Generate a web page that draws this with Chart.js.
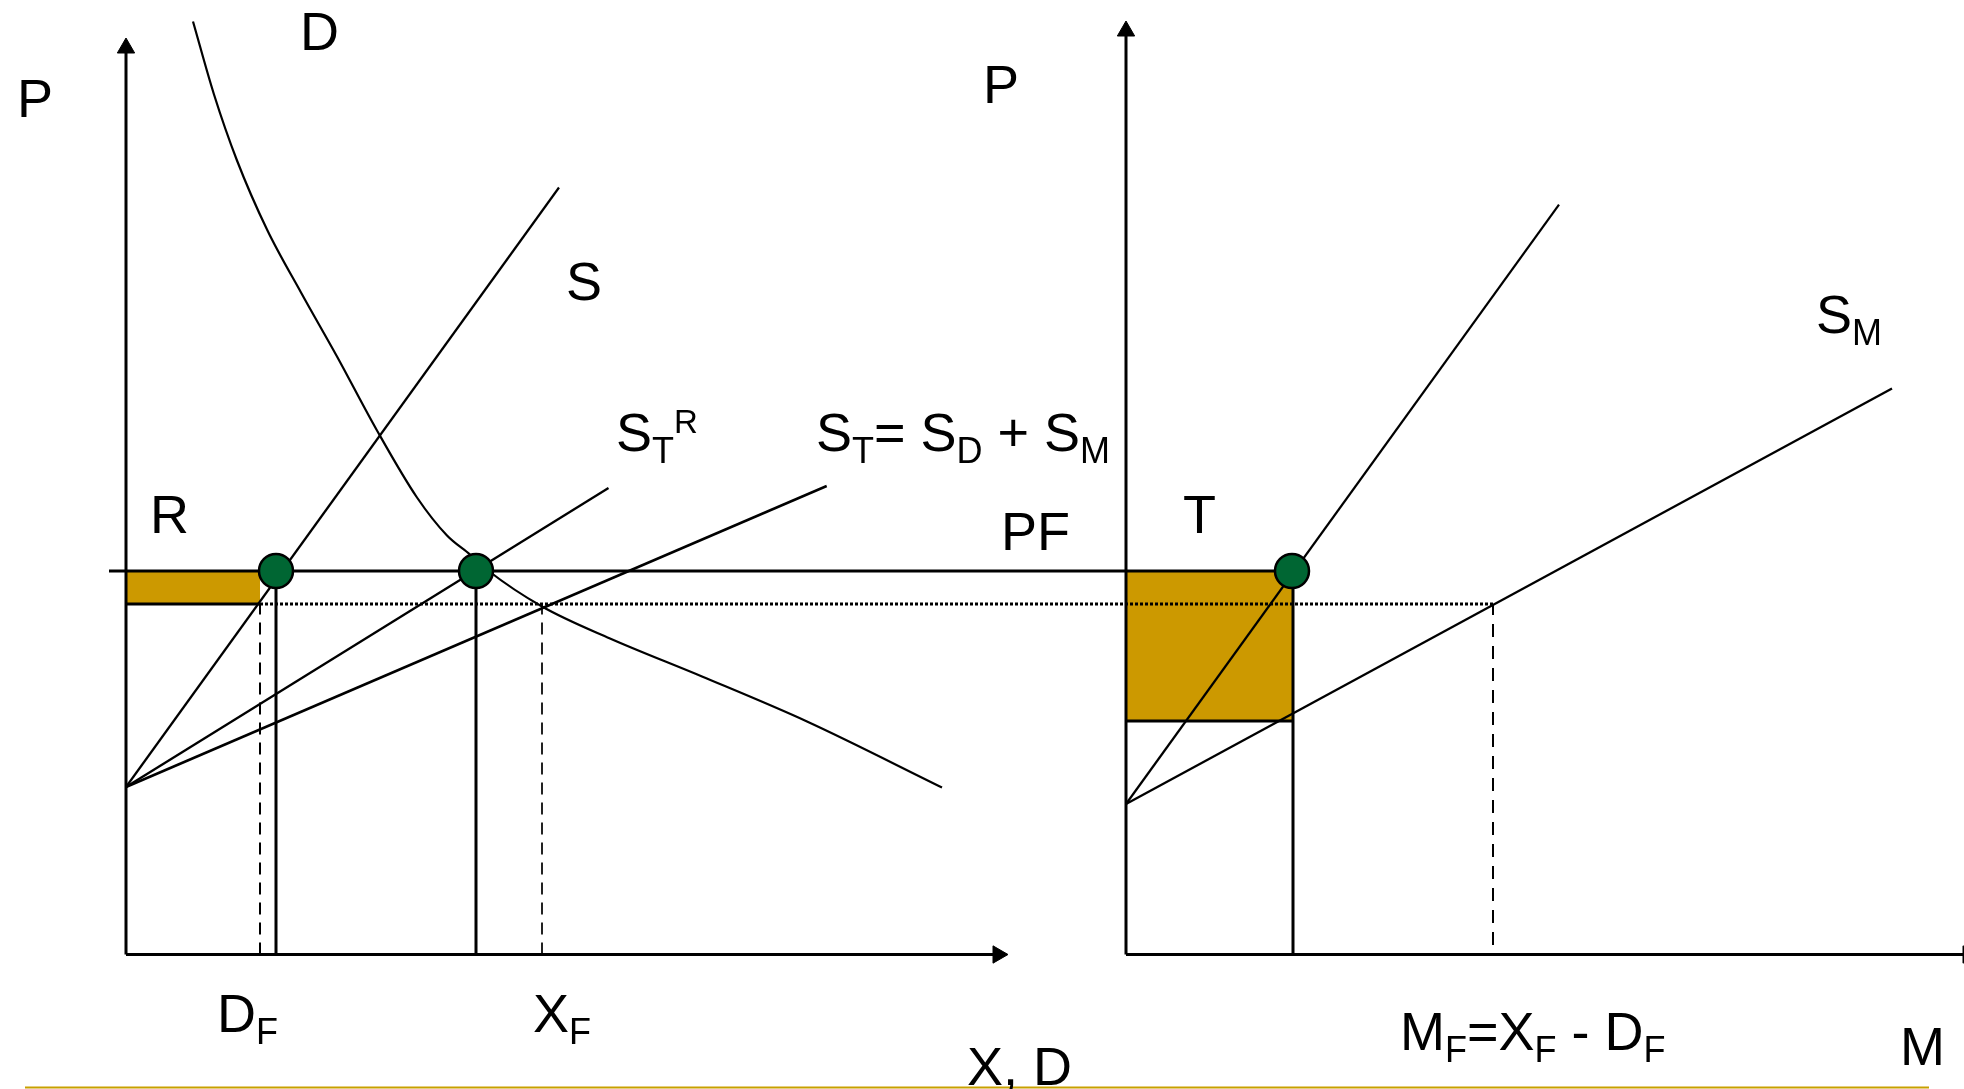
<!DOCTYPE html>
<html><head><meta charset="utf-8">
<script src="https://cdn.jsdelivr.net/npm/chart.js@4/dist/chart.umd.min.js"></script>
<style>html,body{margin:0;padding:0;background:#fff;overflow:hidden}canvas{display:block}</style>
</head><body>
<canvas id="c" width="1964" height="1089"></canvas>
<script>
// Quantity axis: left panel (X, D) starts at q = 0, right panel (M) starts at q = 1000.
const M_ORIGIN = 1000;
const PRICE_PF = 383.5;    // world price PF
const PRICE_LOW = 350.5;   // lower (dotted) price
const PRICE_T = 233.5;     // bottom of tariff rectangle T

// Demand curve D
const demandQ = [67, 88, 111, 141, 175, 211, 251, 291, 321, 344, 362, 416, 484, 576, 681, 816];
const demandP = [933, 860, 794, 725, 662, 598, 524, 457, 419, 400, 384, 348, 316, 278, 233, 167];

// Supply curves (left panel)
const sQ = [0, 433],     sP = [167.5, 767];
const stRQ = [0, 482.5], stRP = [167.5, 466.5];
const stQ = [0, 700.7],  stP = [167.5, 468.5];

// Right panel supply curves
const rSQ = [1000, 1433],   rSP = [150.5, 749.8];
const smQ = [1000, 1766],   smP = [150.5, 566];

// Key quantities
const DF_Q = 134, D_EQ = 150, X_EQ = 350, XF_Q = 416, M_EQ = 1167, MF_Q = 1367;
const circleQ = [D_EQ, X_EQ, M_EQ - 1];

const pts = (xs, ys) => xs.map((x, i) => ({x, y: ys[i]}));
const BLACK = '#000';
const GOLD = '#CC9900';

function line(data, opts) {
  return Object.assign({type: 'scatter', data, showLine: true, borderColor: BLACK, borderWidth: 2.2,
    pointRadius: 0, pointHoverRadius: 0, fill: false, order: 2, clip: false}, opts || {});
}
function arrowAxis(data, rot) {
  return line(data, {borderWidth: 3, pointRadius: [0, 10], pointStyle: 'triangle',
    rotation: [0, rot], pointBackgroundColor: BLACK, pointBorderColor: BLACK, pointBorderWidth: 1});
}

const datasets = [
  // equilibrium points
  {type: 'scatter', data: circleQ.map(q => ({x: q, y: PRICE_PF})), pointRadius: 17, pointHoverRadius: 17,
   pointBackgroundColor: '#006633', pointBorderColor: BLACK, pointBorderWidth: 2.5, order: 0, clip: false},
  // axes
  arrowAxis(pts([0, 0], [0, 906.5]), 0),
  arrowAxis(pts([0, 872], [0, 0]), 90),
  arrowAxis(pts([M_ORIGIN, M_ORIGIN], [0, 923.5]), 0),
  arrowAxis(pts([M_ORIGIN, 1842], [0, 0]), 90),
  // curves
  line(pts(demandQ, demandP), {cubicInterpolationMode: 'monotone'}),
  line(pts(sQ, sP)),
  line(pts(stRQ, stRP), {borderWidth: 2.3}),
  line(pts(stQ, stP), {borderWidth: 2.5}),
  line(pts(rSQ, rSP)),
  line(pts(smQ, smP), {borderWidth: 2.3}),
  // price lines
  line(pts([-17, M_EQ - 1], [PRICE_PF, PRICE_PF]), {borderWidth: 3}),
  line(pts([DF_Q, MF_Q], [PRICE_LOW, PRICE_LOW]), {borderWidth: 3, borderDash: [3, 2]}),
  line(pts([0, DF_Q], [PRICE_LOW, PRICE_LOW]), {borderWidth: 3}),
  line(pts([M_ORIGIN, M_EQ], [PRICE_T, PRICE_T]), {borderWidth: 3}),
  // verticals
  line(pts([D_EQ, D_EQ], [0, PRICE_PF]), {borderWidth: 3}),
  line(pts([X_EQ, X_EQ], [0, PRICE_PF]), {borderWidth: 3}),
  line(pts([M_EQ, M_EQ], [0, PRICE_PF]), {borderWidth: 3}),
  line(pts([DF_Q, DF_Q], [0, PRICE_LOW]), {borderWidth: 2, borderDash: [12, 8]}),
  line(pts([XF_Q, XF_Q], [0, PRICE_LOW]), {borderWidth: 2, borderDash: [12, 8], borderColor: '#222'}),
  line(pts([MF_Q, MF_Q], [9.5, PRICE_LOW]), {borderWidth: 2, borderDash: [13, 9]}),
  // shaded areas R and T
  line(pts([0, DF_Q], [PRICE_PF, PRICE_PF]), {borderWidth: 0, fill: {target: {value: PRICE_LOW}}, backgroundColor: GOLD, order: 10}),
  line(pts([M_ORIGIN, M_EQ], [PRICE_PF, PRICE_PF]), {borderWidth: 0, fill: {target: {value: PRICE_T}}, backgroundColor: GOLD, order: 10}),
  // slide rule at bottom
  line(pts([-101, 1803], [-133, -133]), {borderWidth: 2, borderColor: '#C8A000'})
];

// Text labels: position in data units, parts with optional sub/sup
const labels = [
  {x: -109, y: 837.5, parts: [['P']]},
  {x: 174, y: 904.5, parts: [['D']]},
  {x: 440, y: 654.5, parts: [['S']]},
  {x: 490, y: 503.5, parts: [['S'], ['T', 'sub'], ['R', 'sup']]},
  {x: 690, y: 503.5, parts: [['S'], ['T', 'sub'], ['= S'], ['D', 'sub'], [' + S'], ['M', 'sub']]},
  {x: 24, y: 421.5, parts: [['R']]},
  {x: 875, y: 404.5, parts: [['PF']]},
  {x: 857, y: 851.5, parts: [['P']]},
  {x: 1057, y: 421.5, parts: [['T']]},
  {x: 1690, y: 621.5, parts: [['S'], ['M', 'sub']]},
  {x: 91, y: -77, parts: [['D'], ['F', 'sub']]},
  {x: 407, y: -77, parts: [['X'], ['F', 'sub']]},
  {x: 841, y: -130.5, parts: [['X, D']]},
  {x: 1274, y: -95.5, parts: [['M'], ['F', 'sub'], ['=X'], ['F', 'sub'], [' - D'], ['F', 'sub']]},
  {x: 1774, y: -110.5, parts: [['M']]}
];

const FONT = '"Liberation Sans", Arial, sans-serif';
const labelPlugin = {
  id: 'labels',
  afterDatasetsDraw(chart) {
    const ctx = chart.ctx, xs = chart.scales.x, ys = chart.scales.y;
    ctx.save();
    ctx.fillStyle = BLACK;
    ctx.textBaseline = 'alphabetic';
    ctx.textAlign = 'left';
    labels.forEach(l => {
      let px = xs.getPixelForValue(l.x);
      const py = ys.getPixelForValue(l.y);
      l.parts.forEach(([t, kind]) => {
        let size = 54, dy = 0;
        if (kind === 'sub') { size = 36; dy = 12; }
        if (kind === 'sup') { size = 33; dy = -18; }
        ctx.font = size + 'px ' + FONT;
        ctx.fillText(t, px, py + dy);
        px += ctx.measureText(t).width;
      });
    });
    ctx.restore();
  }
};

new Chart(document.getElementById('c'), {
  type: 'scatter',
  data: {datasets},
  options: {
    responsive: false, animation: false, devicePixelRatio: 1,
    layout: {padding: 0, autoPadding: false},
    plugins: {legend: {display: false}, tooltip: {enabled: false}},
    events: [],
    scales: {
      x: {type: 'linear', min: -126, max: 1838, display: false},
      y: {type: 'linear', min: -134.5, max: 954.5, display: false}
    }
  },
  plugins: [labelPlugin]
});
</script>
</body></html>
